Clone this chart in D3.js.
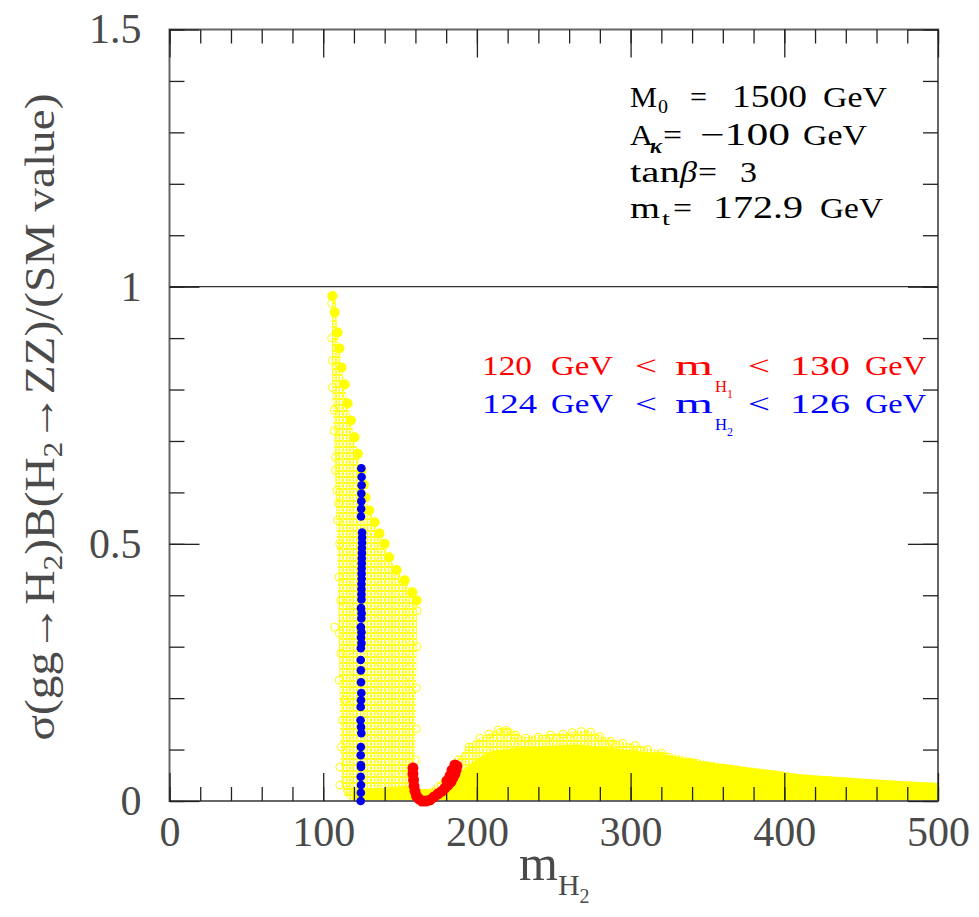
<!DOCTYPE html>
<html><head><meta charset="utf-8">
<script src="https://cdn.jsdelivr.net/npm/d3@7"></script>
<style>body{margin:0;background:#fff}</style>
</head><body>
<svg id="c" width="979" height="917" xmlns="http://www.w3.org/2000/svg"></svg>
<script>
// ---------------- data ----------------
const xMajorTicks = [0, 100, 200, 300, 400, 500];
const xTickLabels = ["0", "100", "200", "300", "400", "500"];
const xMinorTicks = d3.range(0, 501, 20);
const yMajorTicks = [0, 0.5, 1, 1.5];
const yTickLabels = ["0", "0.5", "1", "1.5"];
const yMinorTicks = [0,0.1,0.2,0.3,0.4,0.5,0.6,0.7,0.8,0.9,1.0,1.1,1.2,1.3,1.4,1.5];
const refLineY = 1;

// yellow scan region: left band (hollow circles) - left edge top->bottom, right edge top->bottom
const bandLeft = [[106,0.99],[105.5,0.95],[105.5,0.85],[106.5,0.75],[107.5,0.65],[108.5,0.55],[109.5,0.45],[110,0.35],[110.5,0.25],[111,0.15],[111.5,0.08],[112,0.03],[114,0.01],[118,0]];
const bandRight = [[107.5,0.99],[109.4,0.911],[112,0.843],[115.9,0.773],[120.4,0.707],[125,0.643],[127.6,0.59],[130,0.565],[133.5,0.542],[136.7,0.52],[140,0.5],[143,0.474],[147.8,0.449],[153,0.429],[158,0.406],[160.8,0.39],[161,0.33],[160.5,0.25],[160,0.15],[159.5,0.06],[159.5,0]];
// right region: upper envelope of hollow circles
const rightUpper = [[162,0],[165,0.01],[170,0.025],[176,0.04],[182,0.06],[188,0.085],[195,0.112],[205,0.128],[215,0.142],[222,0.142],[230,0.125],[240,0.128],[254,0.132],[265,0.136],[272,0.138],[280,0.128],[290,0.118],[301,0.112],[312,0.103],[323,0.095],[345,0.080],[366,0.070],[388,0.062],[410,0.052],[432,0.047],[454,0.043],[475,0.039],[500,0.035],[500,0]];
// right region: dense (solid-looking) part
const rightSolid = [[164,0],[170,0.012],[180,0.028],[190,0.058],[200,0.082],[210,0.097],[225,0.103],[245,0.107],[265,0.11],[285,0.104],[305,0.097],[323,0.09],[345,0.078],[366,0.069],[388,0.061],[410,0.052],[432,0.047],[454,0.043],[475,0.039],[500,0.035],[500,0]];
// solid strip at the bottom
const bottomSolid = [[119,0],[119,0.02],[140,0.026],[158,0.03],[162,0.024],[175,0.022],[190,0.026],[190,0]];

// filled yellow points (edge of the band)
const yellowFilled = [[106,0.982],[107.5,0.95],[109.4,0.911],[110.5,0.88],[112,0.843],[114,0.81],[115.9,0.773],[118,0.74],[120.4,0.707],[122.5,0.675],[125,0.643],[126.5,0.615],[127.6,0.59],[130,0.565],[133.5,0.542],[136.7,0.52],[140,0.5],[143,0.474],[147.8,0.449],[153,0.429],[158,0.406],[160.8,0.39]];
// hollow yellow points on the edges
const yellowOpen = [[105.5,0.967],[105.5,0.9],[106,0.856],[106,0.804],[107,0.76],[107,0.72],[108,0.668],[108,0.643],[109,0.604],[110,0.579],[109.4,0.546],[110.7,0.5],[110.2,0.435],[111.5,0.39],[107.4,0.338],[110.5,0.326],[111.5,0.287],[110.5,0.235],[114,0.196],[112.5,0.157],[111.8,0.105],[110.8,0.066],[110.8,0.031],[116,0.021],
  [188,0.08],[195,0.105],[202,0.122],[208,0.13],[214,0.138],[219,0.137],[225,0.128],[232,0.122],[240,0.124],[248,0.128],[256,0.13],[262,0.133],[268,0.135],[274,0.134],[280,0.125],[287,0.116],[295,0.112],[303,0.108],[311,0.1],[320,0.093],
  [161,0.37],[161,0.3],[160.5,0.22],[160.5,0.14],[160,0.08]];

// blue: 124 GeV < mH2 < 126 GeV
const bluePts = [[124.8,0.647],[125,0.63],[125,0.614],[124.8,0.598],[124.8,0.583],[124.7,0.568],[124.6,0.553],
  [125.3,0.522],[125.3,0.512],[125.3,0.502],[125.2,0.492],[125.2,0.482],[125.1,0.472],[125.1,0.462],[125.0,0.452],[125.0,0.442],[125.0,0.432],[124.9,0.422],[124.9,0.412],[124.9,0.402],[124.9,0.392],
  [124.6,0.375],[125.0,0.365],[124.8,0.355],[124.5,0.338],[124.9,0.328],[124.6,0.318],[124.9,0.307],[124.5,0.297],[124.4,0.274],[124.5,0.254],[124.6,0.231],[124.8,0.21],[124.6,0.196],[124.4,0.183],[124.3,0.157],[124.6,0.144],[124.8,0.132],[124.5,0.105],[124.4,0.089],[124.5,0.07],[124.6,0.066],[124.4,0.047],[124.6,0.031],[124.5,0.016],[124.4,0.0]];
// red: 120 GeV < mH1 < 130 GeV
const redPts = [[158.4,0.064],[158.4,0.0525],[158.8,0.041],[159.1,0.029],[159.7,0.019],[160.7,0.0097],[162.3,0.004],[164.3,0],[166.9,0],[169.5,0.002],[172.1,0.008],[174.7,0.014],[177.3,0.019],[179.2,0.025],[181.2,0.031],[183.1,0.037],[184.4,0.045],[185.7,0.0525],[186.4,0.06],[187,0.068],[185.7,0.07],[183.8,0.06],[182.5,0.049],[180.5,0.039]];

// ---------------- drawing ----------------
const svg = d3.select("#c");
const x = d3.scaleLinear().domain([0, 500]).range([169.5, 938]);
const y = d3.scaleLinear().domain([0, 1.5]).range([801, 29.5]);
const YEL = "#ffff00";

const defs = svg.append("defs");
const pat = defs.append("pattern").attr("id", "hollow").attr("width", 7).attr("height", 6)
  .attr("patternUnits", "userSpaceOnUse");
[[0,0],[7,0],[0,6],[7,6],[3.5,3]].forEach(p => pat.append("circle").attr("cx", p[0]).attr("cy", p[1]).attr("r", 4)
  .attr("fill", "none").attr("stroke", YEL).attr("stroke-width", 1));

const line = d3.line().x(d => x(d[0])).y(d => y(d[1]));
const gData = svg.append("g");

// left band polygon
const bandPoly = bandLeft.concat(bandRight.slice().reverse());
gData.append("path").attr("d", line(bandPoly) + "Z").attr("fill", "url(#hollow)");
gData.append("path").attr("d", line(rightUpper) + "Z").attr("fill", "url(#hollow)");
gData.append("path").attr("d", line(rightSolid) + "Z").attr("fill", YEL);
gData.append("path").attr("d", line(bottomSolid) + "Z").attr("fill", YEL);

gData.selectAll("circle.yo").data(yellowOpen).enter().append("circle").attr("class", "yo")
  .attr("cx", d => x(d[0])).attr("cy", d => y(d[1])).attr("r", 4)
  .attr("fill", "none").attr("stroke", YEL).attr("stroke-width", 1);
gData.selectAll("circle.yf").data(yellowFilled).enter().append("circle").attr("class", "yf")
  .attr("cx", d => x(d[0])).attr("cy", d => y(d[1])).attr("r", 5).attr("fill", YEL);

// reference line
svg.append("line").attr("x1", x(0)).attr("x2", x(500)).attr("y1", y(refLineY)).attr("y2", y(refLineY))
  .attr("stroke", "#333").attr("stroke-width", 1.2);

// frame
svg.append("rect").attr("x", 169.5).attr("y", 29.5).attr("width", 938 - 169.5).attr("height", 801 - 29.5)
  .attr("fill", "none").attr("stroke", "#666").attr("stroke-width", 2);

const tickFont = "'Liberation Serif', 'DejaVu Serif', serif";
function styleAxis(g) {
  g.select(".domain").remove();
  g.selectAll(".tick line").attr("stroke", "#222").attr("stroke-width", 1.3);
  g.selectAll(".tick text").attr("font-family", tickFont).attr("font-size", 42).attr("fill", "#4a4a4a");
}
// bottom
svg.append("g").attr("transform", "translate(0,801)")
  .call(d3.axisBottom(x).tickValues(xMinorTicks).tickSizeInner(-14).tickSizeOuter(0).tickFormat("")).call(styleAxis);
svg.append("g").attr("transform", "translate(0,801)")
  .call(d3.axisBottom(x).tickValues(xMajorTicks).tickSizeInner(-28).tickSizeOuter(0).tickPadding(15)
    .tickFormat((d, i) => xTickLabels[i])).call(styleAxis);
// top
svg.append("g").attr("transform", "translate(0,29.5)")
  .call(d3.axisTop(x).tickValues(xMinorTicks).tickSizeInner(-14).tickSizeOuter(0).tickFormat("")).call(styleAxis);
svg.append("g").attr("transform", "translate(0,29.5)")
  .call(d3.axisTop(x).tickValues(xMajorTicks).tickSizeInner(-28).tickSizeOuter(0).tickFormat("")).call(styleAxis);
// left
svg.append("g").attr("transform", "translate(169.5,0)")
  .call(d3.axisLeft(y).tickValues(yMinorTicks).tickSizeInner(-15).tickSizeOuter(0).tickFormat("")).call(styleAxis);
svg.append("g").attr("transform", "translate(169.5,0)")
  .call(d3.axisLeft(y).tickValues(yMajorTicks).tickSizeInner(-30).tickSizeOuter(0).tickPadding(28)
    .tickFormat((d, i) => yTickLabels[i])).call(styleAxis);
// right
svg.append("g").attr("transform", "translate(938,0)")
  .call(d3.axisRight(y).tickValues(yMinorTicks).tickSizeInner(-15).tickSizeOuter(0).tickFormat("")).call(styleAxis);
svg.append("g").attr("transform", "translate(938,0)")
  .call(d3.axisRight(y).tickValues(yMajorTicks).tickSizeInner(-30).tickSizeOuter(0).tickFormat("")).call(styleAxis);

// blue & red points on top
svg.append("g").selectAll("circle").data(bluePts).enter().append("circle")
  .attr("cx", d => x(d[0])).attr("cy", d => y(d[1])).attr("r", 4.3).attr("fill", "#0000ee");
svg.append("g").selectAll("circle").data(redPts).enter().append("circle")
  .attr("cx", d => x(d[0])).attr("cy", d => y(d[1])).attr("r", 5.5).attr("fill", "#ff0000");

// ---------------- texts ----------------
const serif = "'Liberation Serif', 'DejaVu Serif', serif";
function txt(px, py, s, size, fill, len, extra) {
  const t = svg.append("text").attr("x", px).attr("y", py).attr("font-family", serif)
    .attr("font-size", size).attr("fill", fill).text(s);
  if (len) t.attr("textLength", len).attr("lengthAdjust", "spacingAndGlyphs");
  if (extra) extra(t);
  return t;
}
// parameter box
const K = "#000";
txt(630, 107, "M", 30, K, 27); txt(658, 113, "0", 19, K, 10);
txt(690, 107, "=", 30, K, 17); txt(732, 107, "1500", 31, K, 75); txt(823, 107, "GeV", 30, K, 64);
txt(630, 145, "A", 30, K, 23); txt(650, 153, "κ", 20, K, 12, t => t.attr("font-style", "italic").attr("font-weight", "bold"));
txt(663, 145, "=", 30, K, 19); txt(700, 145, "−100", 31, K, 90); txt(803, 145, "GeV", 30, K, 64);
txt(630, 182, "tan", 30, K, 50); txt(680, 182, "β", 30, K, 17, t => t.attr("font-style", "italic"));
txt(698, 182, "=", 30, K, 19); txt(740, 182, "3", 30, K, 17);
txt(630, 218, "m", 30, K, 30); txt(662, 225, "t", 19, K, 8);
txt(673, 218, "=", 30, K, 19); txt(713, 218, "172.9", 31, K, 90); txt(820, 218, "GeV", 30, K, 63);

// legend
function legendLine(py, c, a, b, sub) {
  txt(482, py, a, 27, c, a === "120" ? 50 : 55); txt(551, py, "GeV", 27, c, 62);
  txt(635, py, "<", 27, c, 22); txt(675, py, "m", 27, c, 38);
  txt(715, py + 17, "H", 16, c, 12); txt(727, py + 23, sub, 12, c, 6);
  txt(748, py, "<", 27, c, 22); txt(790, py, b, 27, c, 60); txt(865, py, "GeV", 27, c, 61);
}
legendLine(375, "#ff0000", "120", "130", "1");
legendLine(413, "#0000ff", "124", "126", "2");

// axis titles
const xt = svg.append("text").attr("x", 519).attr("y", 880).attr("font-family", serif).attr("fill", "#4a4a4a");
xt.append("tspan").attr("font-size", 50).text("m");
xt.append("tspan").attr("font-size", 30).attr("dy", 15).text("H");
xt.append("tspan").attr("font-size", 20).attr("dy", 8).text("2");

const yt = svg.append("text").attr("transform", "translate(54,417) rotate(-90)").attr("text-anchor", "middle")
  .attr("font-family", serif).attr("fill", "#4a4a4a").attr("font-size", 42).attr("textLength", 647).attr("lengthAdjust", "spacingAndGlyphs");
yt.append("tspan").text("σ(gg→H");
yt.append("tspan").attr("font-size", 28).attr("dy", 8).text("2");
yt.append("tspan").attr("dy", -8).text(")B(H");
yt.append("tspan").attr("font-size", 28).attr("dy", 8).text("2");
yt.append("tspan").attr("dy", -8).text("→ZZ)/(SM value)");
</script>
</body></html>
